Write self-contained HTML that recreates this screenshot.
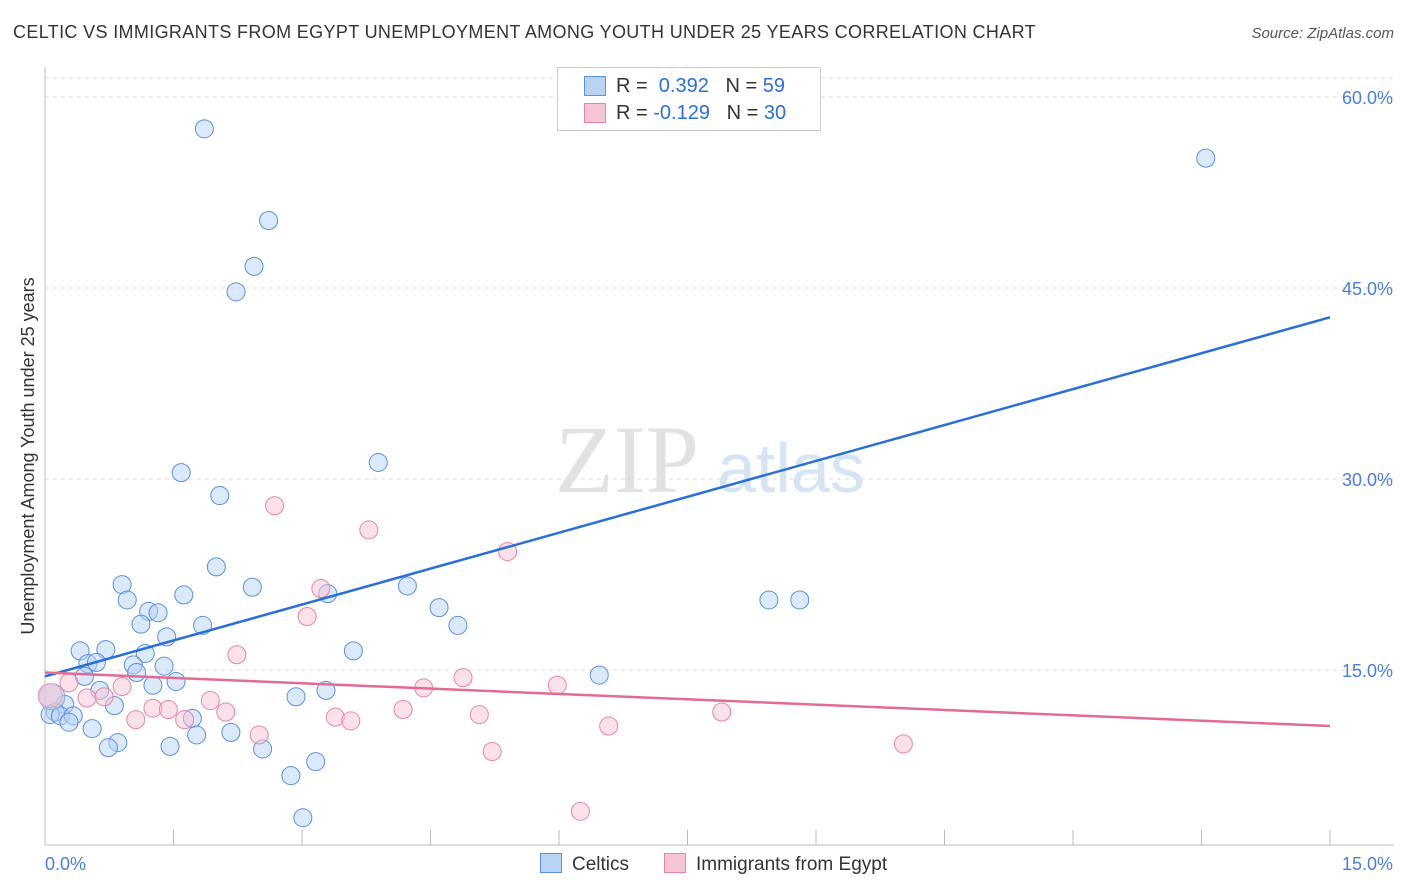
<!DOCTYPE html>
<html><head><meta charset="utf-8"><style>
body{margin:0;background:#fff;font-family:"Liberation Sans",sans-serif}
#wrap{position:relative;width:1406px;height:892px}
.t{position:absolute;white-space:nowrap}
</style></head><body>
<div id="wrap">
<div class="t" style="left:13px;top:22px;font-size:18px;color:#333;letter-spacing:0.35px">CELTIC VS IMMIGRANTS FROM EGYPT UNEMPLOYMENT AMONG YOUTH UNDER 25 YEARS CORRELATION CHART</div>
<div class="t" style="right:12px;top:25px;font-size:15px;color:#555;font-style:italic">Source: ZipAtlas.com</div>
<svg id="svg" width="1406" height="892" style="position:absolute;left:0;top:0"></svg>
</div>
<script>
const blueX=[1.86,2.61,2.44,2.23,13.55,1.59,3.89,2.04,2.00,0.90,2.42,0.96,1.62,3.30,4.23,1.21,1.32,1.12,1.84,4.60,4.82,1.42,1.17,0.41,0.71,3.60,0.50,0.60,1.03,1.39,1.07,0.46,6.47,1.26,1.53,3.28,0.64,2.93,0.81,0.23,0.12,0.06,0.18,0.33,0.28,1.72,0.55,2.17,1.77,0.85,0.74,1.46,2.54,3.16,2.87,3.01,8.45,8.81];
const blueY=[57.5,50.3,46.7,44.7,55.2,30.5,31.3,28.7,23.1,21.7,21.5,20.5,20.9,21.0,21.6,19.6,19.5,18.6,18.5,19.9,18.5,17.6,16.3,16.5,16.6,16.5,15.5,15.6,15.4,15.3,14.8,14.5,14.6,13.8,14.1,13.4,13.4,12.9,12.2,12.3,11.7,11.5,11.4,11.4,10.9,11.2,10.4,10.1,9.9,9.3,8.9,9.0,8.8,7.8,6.7,3.4,20.5,20.5];
const pinkX=[2.68,3.78,5.40,3.22,3.06,2.24,0.28,0.90,0.69,0.49,1.93,4.88,5.98,4.42,1.26,1.44,1.63,2.11,4.18,1.06,3.39,3.57,5.07,2.50,6.58,7.90,5.22,10.02,6.25];
const pinkY=[27.9,26.0,24.3,21.4,19.2,16.2,14.0,13.7,12.9,12.8,12.6,14.4,13.8,13.6,12.0,11.9,11.1,11.7,11.9,11.1,11.3,11.0,11.5,9.9,10.6,11.7,8.6,9.2,3.9];
const bigBlue=[0.08,12.9], bigPink=[0.06,13.0];
const blueTrend=[14.5,42.7], pinkTrend=[14.8,10.6];
const yTicks=[15,30,45,60];
const xTickCount=10;
const X=v=>45+v/15*1285, Y=v=>861-v/15*191;
const svg=document.getElementById('svg'),NS='http://www.w3.org/2000/svg';
function mk(t,a,p){const e=document.createElementNS(NS,t);for(const k in a)e.setAttribute(k,a[k]);(p||svg).appendChild(e);return e;}
let w=mk('text',{x:555,y:492,'font-size':96,fill:'#e2e2e2','font-family':'Liberation Serif,serif'});w.textContent='ZIP';


let w2=mk('text',{x:717,y:492,'font-size':70,fill:'#d6e4f4','font-family':'Liberation Sans,sans-serif'});w2.textContent='atlas';


let g=mk('line',{x1:45,x2:1394,y1:78,y2:78,stroke:'#ddd','stroke-dasharray':'4,4'});


yTicks.forEach(v=>{
 const l=mk('line',{x1:45,x2:1394,y1:Y(v),y2:Y(v),stroke:'#ddd','stroke-dasharray':'4,4'});
 
 
 const t=mk('text',{x:1393,y:Y(v)+7,'text-anchor':'end','font-size':18,fill:'#4a7fd4'});t.textContent=v.toFixed(1)+'%';
 
 
});
let ax=mk('line',{x1:45,x2:45,y1:67,y2:845,stroke:'#bbb'});


let bx=mk('line',{x1:45,x2:1394,y1:845,y2:845,stroke:'#bbb'});


for(let i=1;i<=xTickCount;i++){const x=X(i*15/xTickCount);
 const l=mk('line',{x1:x,x2:x,y1:830,y2:845,stroke:'#bbb'});
 
 }
[['0.0%',45,'start'],['15.0%',1393,'end']].forEach(a=>{const t=mk('text',{x:a[1],y:870,'text-anchor':a[2],'font-size':18,fill:'#4a7fd4'});t.textContent=a[0];
 
 });
let yt=mk('text',{x:0,y:0,'font-size':18,fill:'#333','text-anchor':'middle',transform:'translate(34,456) rotate(-90)'});yt.textContent='Unemployment Among Youth under 25 years';


function pts(xs,ys,fill,stroke,name){xs.forEach((x,i)=>{const c=mk('circle',{cx:X(x),cy:Y(ys[i]),r:9,fill:fill,'fill-opacity':0.5,stroke:stroke,'stroke-width':1});
 
 });}
pts(blueX,blueY,'#b8d3f3','#5b8fdc','celtics-point');
pts(pinkX,pinkY,'#f8c5d5','#e884a6','egypt-point');
let b1=mk('circle',{cx:X(bigBlue[0]),cy:Y(bigBlue[1]),r:13,fill:'#b8c8ea','fill-opacity':0.6,stroke:'#8aa8dc'});


let b2=mk('circle',{cx:X(bigPink[0]),cy:Y(bigPink[1]),r:12,fill:'#f3c6d6','fill-opacity':0.5,stroke:'#e8a0b8'});


let t1=mk('line',{x1:X(0),y1:Y(blueTrend[0]),x2:X(15),y2:Y(blueTrend[1]),stroke:'#2a6fd6','stroke-width':2.5});


let t2=mk('line',{x1:X(0),y1:Y(pinkTrend[0]),x2:X(15),y2:Y(pinkTrend[1]),stroke:'#e26a96','stroke-width':2.5});


</script>
<div class="t" style="left:557px;top:67px;width:262px;height:62px;border:1px solid #ccc;background:#fff;font-size:20px;color:#333">
 <div style="position:absolute;left:26px;top:8px;width:20px;height:18px;background:#b8d3f3;border:1px solid #5b8fdc"></div>
 <div style="position:absolute;left:58px;top:7px">R = <span style="color:#2a6fd6">&nbsp;0.392</span>&nbsp;&nbsp;&nbsp;N = <span style="color:#2a6fd6">59</span></div>
 <div style="position:absolute;left:26px;top:35px;width:20px;height:18px;background:#f8c5d5;border:1px solid #e884a6"></div>
 <div style="position:absolute;left:58px;top:34px">R = <span style="color:#2a6fd6">-0.129</span>&nbsp;&nbsp;&nbsp;N = <span style="color:#2a6fd6">30</span></div>
</div>
<div class="t" style="left:540px;top:853px;font-size:19px;color:#333"><span style="display:inline-block;width:20px;height:18px;background:#b8d3f3;border:1px solid #5b8fdc;vertical-align:-3px;margin-right:10px"></span>Celtics</div>
<div class="t" style="left:664px;top:853px;font-size:19px;color:#333"><span style="display:inline-block;width:20px;height:18px;background:#f8c5d5;border:1px solid #e884a6;vertical-align:-3px;margin-right:10px"></span>Immigrants from Egypt</div>
</body></html>
